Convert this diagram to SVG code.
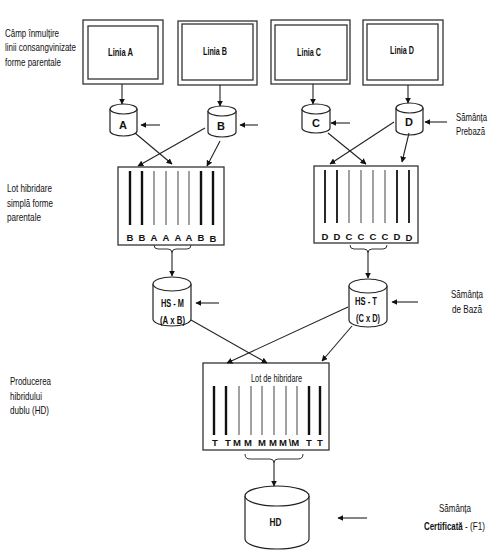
<svg xmlns="http://www.w3.org/2000/svg" width="503" height="554" viewBox="0 0 503 554">
<defs>
<marker id="ah" viewBox="0 0 10 10" refX="9" refY="5" markerWidth="6" markerHeight="6" markerUnits="userSpaceOnUse" orient="auto">
<path d="M0,0 L10,5 L0,10 z" fill="#111"/>
</marker>
<style>
text{font-family:"Liberation Sans",Arial,sans-serif;fill:#111}
.lbl{font-size:11.5px}
.b{font-weight:bold;font-size:11px}
.s{font-weight:bold;font-size:9.5px;text-anchor:middle}
.c{text-anchor:middle}
.frame{fill:none;stroke:#333;stroke-width:1.3}
.cyl{fill:#fff;stroke:#222;stroke-width:1.2}
.box{fill:#fff;stroke:#333;stroke-width:1.3}
.thick{stroke:#111;stroke-width:2.4}
.thin{stroke:#555;stroke-width:1.1}
.arr{fill:none;stroke:#222;stroke-width:1.1;marker-end:url(#ah)}
.brace{fill:none;stroke:#333;stroke-width:1}
</style>
</defs>
<rect width="503" height="554" fill="#fff"/>

<g id="side-labels">
<text class="lbl" x="5" y="37" textLength="54" lengthAdjust="spacingAndGlyphs">Câmp înmulțire</text>
<text class="lbl" x="5" y="51" textLength="71" lengthAdjust="spacingAndGlyphs">linii consangvinizate</text>
<text class="lbl" x="5" y="66" textLength="56" lengthAdjust="spacingAndGlyphs">forme parentale</text>
<text class="lbl" x="7" y="192" textLength="45" lengthAdjust="spacingAndGlyphs">Lot hibridare</text>
<text class="lbl" x="7" y="207" textLength="46" lengthAdjust="spacingAndGlyphs">simplă forme</text>
<text class="lbl" x="7" y="221" textLength="34" lengthAdjust="spacingAndGlyphs">parentale</text>
<text class="lbl" x="10" y="385" textLength="41" lengthAdjust="spacingAndGlyphs">Producerea</text>
<text class="lbl" x="10" y="400" textLength="32" lengthAdjust="spacingAndGlyphs">hibridului</text>
<text class="lbl" x="10" y="414" textLength="39" lengthAdjust="spacingAndGlyphs">dublu (HD)</text>
<text class="lbl" x="456" y="121" textLength="31" lengthAdjust="spacingAndGlyphs">Sămânța</text>
<text class="lbl" x="456" y="135" textLength="29" lengthAdjust="spacingAndGlyphs">Prebază</text>
<text class="lbl" x="451" y="298" textLength="32" lengthAdjust="spacingAndGlyphs">Sămânța</text>
<text class="lbl" x="452" y="313" textLength="30" lengthAdjust="spacingAndGlyphs">de Bază</text>
<text class="lbl" x="439" y="512" textLength="32" lengthAdjust="spacingAndGlyphs">Sămânța</text>
<text class="lbl" transform="translate(424,530) scale(0.69,1)" font-weight="bold">Certificată</text>
<text class="lbl" transform="translate(465,530) scale(0.71,1)">- (F1)</text>
</g>

<g id="linia-a">
<rect class="frame" x="83" y="20" width="80" height="64"/>
<rect class="frame" x="88" y="26" width="70" height="53"/>
<text class="b c" x="120.5" y="56" textLength="25" lengthAdjust="spacingAndGlyphs">Linia A</text>
</g>
<g id="linia-b">
<rect class="frame" x="178" y="21" width="79" height="64"/>
<rect class="frame" x="182" y="24" width="71" height="56"/>
<text class="b c" x="215" y="55" textLength="24" lengthAdjust="spacingAndGlyphs">Linia B</text>
</g>
<g id="linia-c">
<rect class="frame" x="271" y="20" width="79" height="64"/>
<rect class="frame" x="275" y="25" width="72" height="55"/>
<text class="b c" x="309" y="56" textLength="24" lengthAdjust="spacingAndGlyphs">Linia C</text>
</g>
<g id="linia-d">
<rect class="frame" x="363" y="20" width="80" height="65"/>
<rect class="frame" x="367" y="24" width="71" height="56"/>
<text class="b c" x="402" y="54" textLength="24" lengthAdjust="spacingAndGlyphs">Linia D</text>
</g>

<g id="cyl-a">
<path class="cyl" d="M110,109 V131 A13.5,5 0 0 0 137,131 V109"/>
<ellipse class="cyl" cx="123.5" cy="109" rx="13.5" ry="5"/>
<text class="b c" x="123" y="129">A</text>
</g>
<g id="cyl-b">
<path class="cyl" d="M208,111 V132 A14,5 0 0 0 236,132 V111"/>
<ellipse class="cyl" cx="222" cy="111" rx="14" ry="5"/>
<text class="b c" x="221" y="130">B</text>
</g>
<g id="cyl-c">
<path class="cyl" d="M302,109 V128 A14,5 0 0 0 330,128 V109"/>
<ellipse class="cyl" cx="316" cy="109" rx="14" ry="5"/>
<text class="b c" x="316" y="127">C</text>
</g>
<g id="cyl-d">
<path class="cyl" d="M396,108 V130 A13.5,5 0 0 0 423,130 V108"/>
<ellipse class="cyl" cx="409.5" cy="108" rx="13.5" ry="5"/>
<text class="b c" x="409" y="126">D</text>
</g>

<g id="lot-ab">
<rect class="box" x="118" y="167" width="106" height="78"/>
<line class="thick" x1="130" y1="171" x2="130" y2="225"/>
<line class="thick" x1="142" y1="171" x2="142" y2="225"/>
<line class="thin" x1="154" y1="171" x2="154" y2="225"/>
<line class="thin" x1="166" y1="171" x2="166" y2="225"/>
<line class="thin" x1="178" y1="171" x2="178" y2="225"/>
<line class="thin" x1="189" y1="171" x2="189" y2="225"/>
<line class="thick" x1="201" y1="171" x2="201" y2="225"/>
<line class="thick" x1="213" y1="171" x2="213" y2="225"/>
<text class="s" x="130" y="241">B</text>
<text class="s" x="142" y="241">B</text>
<text class="s" x="154" y="241">A</text>
<text class="s" x="166" y="241">A</text>
<text class="s" x="178" y="241">A</text>
<text class="s" x="189" y="241">A</text>
<text class="s" x="201" y="241">B</text>
<text class="s" x="213" y="242">B</text>
</g>

<g id="lot-cd">
<rect class="box" x="314" y="166" width="104" height="77"/>
<line class="thick" x1="325" y1="170" x2="325" y2="223" style="stroke-width:1.8"/>
<line class="thick" x1="337" y1="170" x2="337" y2="223" style="stroke-width:1.8"/>
<line class="thin" x1="349" y1="170" x2="349" y2="223"/>
<line class="thin" x1="361" y1="170" x2="361" y2="223"/>
<line class="thin" x1="373" y1="170" x2="373" y2="223"/>
<line class="thin" x1="385" y1="170" x2="385" y2="223"/>
<line class="thick" x1="397" y1="170" x2="397" y2="223" style="stroke-width:1.8"/>
<line class="thick" x1="409" y1="170" x2="409" y2="223" style="stroke-width:1.8"/>
<text class="s" x="325" y="240">D</text>
<text class="s" x="337" y="240">D</text>
<text class="s" x="349" y="240">C</text>
<text class="s" x="361" y="240">C</text>
<text class="s" x="373" y="240">C</text>
<text class="s" x="385" y="240">C</text>
<text class="s" x="397" y="240">D</text>
<text class="s" x="409" y="241">D</text>
</g>

<g id="hs-m">
<path class="cyl" d="M153,284 V319 A19,7 0 0 0 191,319 V284"/>
<ellipse class="cyl" cx="172" cy="284" rx="19" ry="7"/>
<text class="b c" x="172.5" y="307" textLength="23" lengthAdjust="spacingAndGlyphs">HS - M</text>
<text class="b c" x="172.5" y="324" textLength="25" lengthAdjust="spacingAndGlyphs">(A x B)</text>
</g>
<g id="hs-t">
<path class="cyl" d="M349,286 V320 A19,7 0 0 0 387,320 V286"/>
<ellipse class="cyl" cx="368" cy="286" rx="19" ry="7"/>
<text class="b c" x="366" y="305" textLength="22" lengthAdjust="spacingAndGlyphs">HS - T</text>
<text class="b c" x="368" y="322" textLength="24" lengthAdjust="spacingAndGlyphs">(C x D)</text>
</g>

<g id="lot-hibridare">
<rect class="box" x="203" y="363" width="126" height="87"/>
<text class="lbl c" x="276.5" y="382" textLength="51" lengthAdjust="spacingAndGlyphs">Lot de hibridare</text>
<line class="thick" x1="214" y1="386" x2="214" y2="435"/>
<line class="thick" x1="226" y1="386" x2="226" y2="435"/>
<line class="thin" x1="239" y1="386" x2="239" y2="435"/>
<line class="thin" x1="251" y1="386" x2="251" y2="435"/>
<line class="thin" x1="262" y1="386" x2="262" y2="435"/>
<line class="thin" x1="274" y1="386" x2="274" y2="435"/>
<line class="thin" x1="286" y1="386" x2="286" y2="435"/>
<line class="thin" x1="297" y1="386" x2="297" y2="435"/>
<line class="thick" x1="309" y1="386" x2="309" y2="435"/>
<line class="thick" x1="320" y1="386" x2="320" y2="435"/>
<text class="s" x="215" y="446">T</text>
<text class="s" x="228" y="446">T</text>
<text class="s" x="237" y="446">M</text>
<text class="s" x="248" y="446">M</text>
<text class="s" x="262" y="446">M</text>
<text class="s" x="273" y="446">M</text>
<text class="s" x="283" y="446">M</text>
<text class="s" x="294" y="446">\M</text>
<text class="s" x="309" y="446">T</text>
<text class="s" x="320" y="446">T</text>
</g>

<g id="hd">
<path class="cyl" d="M245,496 V539 A32,10 0 0 0 309,539 V496"/>
<ellipse class="cyl" cx="277" cy="496" rx="32" ry="10"/>
<text class="b c" x="275.5" y="526" textLength="12" lengthAdjust="spacingAndGlyphs">HD</text>
</g>

<g id="connectors">
<path class="arr" d="M122,84 V104"/>
<path class="arr" d="M220,85 V106"/>
<path class="arr" d="M313,84 V104"/>
<path class="arr" d="M408,85 V103"/>
<path class="arr" d="M160,125 H141"/>
<path class="arr" d="M258,125 H240"/>
<path class="arr" d="M350,123 H331"/>
<path class="arr" d="M447,122 H425"/>
<path class="arr" d="M135,133 L172,164"/>
<path class="arr" d="M205,128 L138,166"/>
<path class="arr" d="M220,141 L207,166"/>
<path class="arr" d="M328,133 L366,164"/>
<path class="arr" d="M394,122 L330,164"/>
<path class="arr" d="M409,133 L402,162"/>
<path class="brace" d="M154,245 q0,4 4,4 h10 q4,0 4,4 q0,-4 4,-4 h11 q4,0 4,-4"/>
<path class="arr" d="M172,253 V276"/>
<path class="brace" d="M350,245 q0,4 4,4 h10 q4,0 4,4 q0,-4 4,-4 h11 q4,0 4,-4"/>
<path class="arr" d="M368,253 V278"/>
<path class="arr" d="M219,303 H196"/>
<path class="arr" d="M418,302 H392"/>
<path class="arr" d="M191,320 L267,363"/>
<path class="arr" d="M348,307 L227,363"/>
<path class="arr" d="M352,326 L322,361"/>
<path class="brace" d="M245,454 q0,5 5,5 h20 q4,0 4,4 q0,-4 4,-4 h20 q5,0 5,-5"/>
<path class="arr" d="M274,463 V486"/>
<path class="arr" d="M367,518 H338"/>
</g>
</svg>
